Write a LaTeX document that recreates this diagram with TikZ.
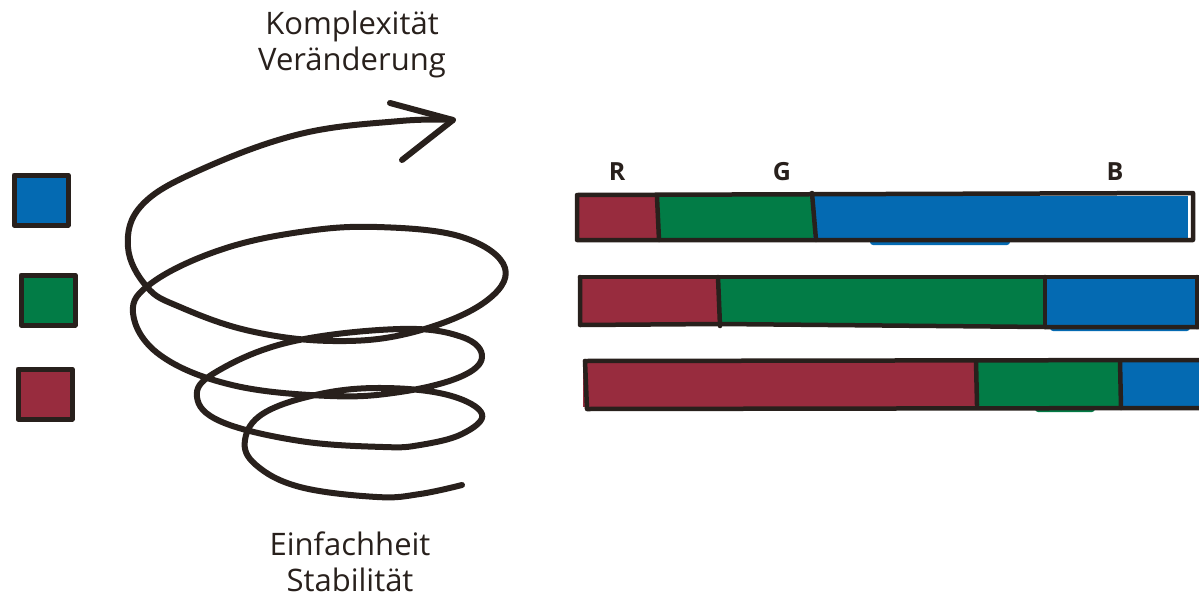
\documentclass[tikz,border=0pt]{standalone}
\usepackage{fontspec}
\setmainfont{Open Sans}
\definecolor{ink}{RGB}{40,32,28}
\definecolor{cR}{RGB}{152,44,62}
\definecolor{cG}{RGB}{2,124,70}
\definecolor{cB}{RGB}{4,106,178}
\tikzset{
  outline/.style={draw=ink,line width=4.5pt,line join=round,line cap=round},
  sq/.style={outline,line width=5pt,minimum width=54pt,minimum height=50pt,inner sep=0pt},
  lbl/.style={text=ink,font=\fontsize{31}{36}\selectfont,align=center},
  chan/.style={text=ink,font=\bfseries\fontsize{25}{26}\selectfont},
  spiral/.style={draw=ink,line width=6pt,line cap=round,line join=round}
}
\begin{document}
\begin{tikzpicture}[x=1pt,y=-1pt]
\useasboundingbox (0,0) rectangle (1199,597);
% texts
\node[lbl] (top) at (352,44) {Komplexität\\Veränderung};
\node[lbl] (bot) at (350,562) {Einfachheit\\Stabilität};
% squares
\node[sq,fill=cB] (sqB) at (41,200) {};
\node[sq,fill=cG] (sqG) at (48,300) {};
\node[sq,fill=cR] (sqR) at (45,394) {};
% spiral
\coordinate (sStart) at (462,485);
\coordinate (tip) at (453,120);
\draw[spiral] plot[smooth,tension=0.65] coordinates {
(462,485) (420,494) (377,497) (300,487) (256,465) (245,440) (264,413) (320,394)
(383,388) (448,395) (482,414) (462,434) (420,445) (383,447) (300,441) (222,422)
(197,397) (216,372) (290,342) (400,329) (462,337) (482,357) (460,377) (400,392)
(330,396) (232,385) (160,355) (133,313) (153,282) (220,250) (300,232) (377,227)
(462,237) (505,268) (482,304) (410,333) (333,341) (250,331) (180,307) (147,287)
(128,247) (142,205) (200,170) (300,134) (400,121) (453,120)};
\coordinate (h1) at (390,103);
\coordinate (h2) at (402,160);
\draw[spiral] (h1) -- (tip) -- (h2);
% channel labels
\node[chan] (lR) at (617,172) {R};
\node[chan] (lG) at (782,172) {G};
\node[chan] (lB) at (1115,172) {B};
% bar 1
\coordinate (b1a) at (577,195); \coordinate (b1b) at (657,195);
\coordinate (b1c) at (813,194); \coordinate (b1d) at (1193,194);
\fill[cR] (575,196) rectangle (657,240);
\fill[cG] (657,196) rectangle (813,241);
\fill[cB] (813,196) rectangle (1188,240);
\fill[cB,rounded corners=3pt] (870,236) rectangle (1010,245);
\draw[outline] (577,195) -- (1193,193) -- (1193,240) -- (577,240) -- cycle;
\draw[outline] (657,197) -- (659,240);
\draw[outline] (812,193) -- (816,240);
% bar 2
\fill[cR] (578,278) rectangle (720,324);
\fill[cG] (720,278) rectangle (1045,326);
\fill[cB] (1045,276) rectangle (1199,326);
\fill[cB,rounded corners=3pt] (1050,322) rectangle (1190,331);
\draw[outline] (580,277) -- (1199,277);
\draw[outline] (580,277) -- (580,325) -- (720,324) -- (1045,327) -- (1199,327);
\draw[outline] (718,277) -- (720,326);
\draw[outline] (1045,277) -- (1045,327);
\draw[outline] (1197,277) -- (1197,327);
% bar 3
\fill[cR] (583,362) rectangle (976,407);
\fill[cG] (976,362) rectangle (1120,407);
\fill[cG,rounded corners=3pt] (1035,403) rectangle (1095,412);
\fill[cB] (1120,362) rectangle (1199,408);
\draw[outline] (585,361) -- (1199,360);
\draw[outline] (585,361) -- (587,409) -- (1199,408);
\draw[outline] (976,361) -- (977,405);
\draw[outline] (1120,361) -- (1121,408);
\end{tikzpicture}
\end{document}
